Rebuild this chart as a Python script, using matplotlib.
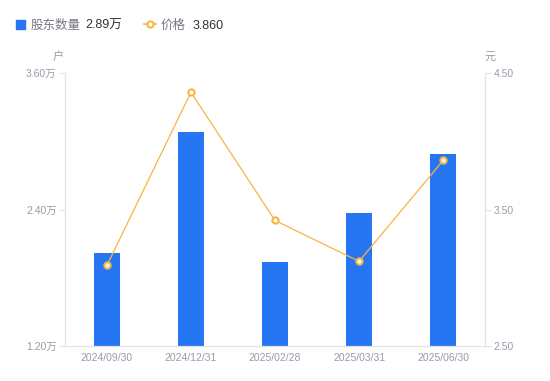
import matplotlib.pyplot as plt
import numpy as np

plt.rcParams['font.family'] = ['Liberation Sans', 'Noto Sans CJK SC', 'DejaVu Sans']

dates = ['2024/09/30', '2024/12/31', '2025/02/28', '2025/03/31', '2025/06/30']
holders = [2.02, 3.08, 1.94, 2.37, 2.89]   # 万户
price = [3.09, 4.36, 3.42, 3.12, 3.86]    # 元

blue = '#2676F4'
orange = '#F9B53F'
grid_c = '#E3E3E8'
txt_c = '#9A9AAA'

fig = plt.figure(figsize=(5.5, 3.81), dpi=100)
ax = fig.add_axes([0.118, 0.092, 0.764, 0.716])
ax2 = ax.twinx()

x = np.arange(len(dates))
ax.bar(x, holders, width=0.3, color=blue, zorder=2)
ax2.plot(x, price, color=orange, lw=0.9, marker='o', ms=4.5, mfc='white',
         mec=orange, mew=1.5, zorder=3)

ax.set_xlim(-0.5, 4.5)
ax.set_ylim(1.2, 3.6)
ax.set_yticks([1.2, 2.4, 3.6])
ax.set_yticklabels(['1.20万', '2.40万', '3.60万'])
ax2.set_ylim(2.5, 4.5)
ax2.set_yticks([2.5, 3.5, 4.5])
ax2.set_yticklabels(['2.50', '3.50', '4.50'])
ax.set_xticks(x)
ax.set_xticklabels(dates)

for a in (ax, ax2):
    for s in a.spines.values():
        s.set_color(grid_c)
        s.set_linewidth(0.8)
    a.spines['top'].set_visible(False)
    a.tick_params(colors=txt_c, labelsize=7.5, length=4, width=0.8, pad=2)
    a.tick_params(axis='y', color=grid_c)
ax.tick_params(axis='x', length=0, pad=5)

fig.text(58 / 550, 1 - 57 / 381, '户', color=txt_c, fontsize=8, ha='center', va='center')
fig.text(490 / 550, 1 - 57 / 381, '元', color=txt_c, fontsize=8, ha='center', va='center')

# legend
ly = 1 - 26 / 381
fig.patches.append(plt.Rectangle((16 / 550, 1 - 29 / 381), 9 / 550, 9 / 381,
                                 transform=fig.transFigure, color=blue, figure=fig))
fig.text(31 / 550, ly, '股东数量', color='#777788', fontsize=9, va='center')
fig.text(85 / 550, ly, '2.89万', color='#333333', fontsize=9, va='center')
fig.add_artist(plt.Line2D([144 / 550, 156 / 550], [1 - 24 / 381, 1 - 24 / 381],
                          color=orange, lw=1.2, transform=fig.transFigure))
fig.add_artist(plt.Line2D([150 / 550], [1 - 24 / 381], marker='o', ms=4.5,
                          mfc='white', mec=orange, mew=1.5, transform=fig.transFigure))
fig.text(161 / 550, ly, '价格', color='#777788', fontsize=9, va='center')
fig.text(193 / 550, ly, '3.860', color='#333333', fontsize=9, va='center')

fig.savefig('out.png', dpi=100)
